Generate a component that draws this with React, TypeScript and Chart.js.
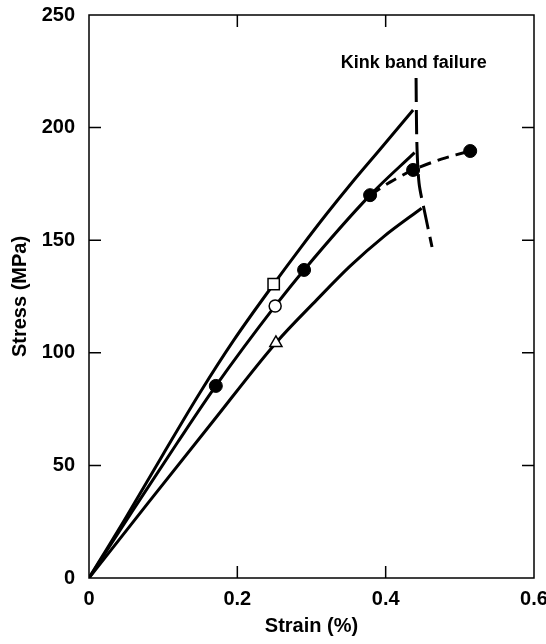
import React, { useEffect, useRef } from "react";
import { Chart, registerables } from "chart.js";

Chart.register(...registerables);

// ---- data ----
const xTickValues = [0, 0.2, 0.4, 0.6];
const yTickValues = [0, 50, 100, 150, 200, 250];

const upperStrain = [0, 0.05, 0.1, 0.15, 0.195, 0.249, 0.285, 0.32, 0.356, 0.392, 0.437];
const upperStress = [0, 27, 55, 82.5, 105.5, 130.5, 146.5, 161.5, 176.2, 190.2, 207.8];

const middleStrain = [0, 0.06, 0.12, 0.171, 0.251, 0.29, 0.379, 0.439];
const middleStress = [0, 30.5, 60.5, 85.3, 120.8, 136.8, 170, 188.9];

const lowerStrain = [0, 0.08, 0.167, 0.252, 0.307, 0.352, 0.397, 0.4485];
const lowerStress = [0, 33.5, 69.5, 104.4, 123.5, 138.5, 151.5, 164.2];

const dashedStrain = [0.379, 0.406, 0.437, 0.475, 0.514];
const dashedStress = [170, 175.8, 181.2, 186, 189.6];

const kinkStrain = [0.441, 0.442, 0.445, 0.452, 0.4625];
const kinkStress = [222, 194, 175.4, 163.4, 147];

const filledStrain = [0.171, 0.29, 0.379, 0.437, 0.514];
const filledStress = [85.3, 136.8, 170, 181.2, 189.6];

const squarePoint = [0.249, 130.5];
const openCirclePoint = [0.251, 120.8];
const trianglePoint = [0.252, 104.4];

const kinkLabel = "Kink band failure";
const kinkLabelPos = [0.438, 228.7];

const xTitle = "Strain (%)";
const yTitle = "Stress (MPa)";

const FONT = "'Liberation Sans', Arial, Helvetica, sans-serif";

const zip = (xs: number[], ys: number[]) => xs.map((x, i) => ({ x, y: ys[i] }));

const framePlugin = {
  id: "frameAndText",
  afterDraw(chart: any) {
    const { ctx, chartArea, scales } = chart;
    const xs = scales.x;
    const ys = scales.y;
    ctx.save();
    ctx.strokeStyle = "#000";
    ctx.lineWidth = 1.5;
    ctx.strokeRect(chartArea.left, chartArea.top, chartArea.right - chartArea.left, chartArea.bottom - chartArea.top);
    const tl = 12;
    ctx.beginPath();
    yTickValues.forEach((v) => {
      if (v === 0 || v === 250) return;
      const py = ys.getPixelForValue(v);
      ctx.moveTo(chartArea.left, py);
      ctx.lineTo(chartArea.left + tl, py);
      ctx.moveTo(chartArea.right, py);
      ctx.lineTo(chartArea.right - tl, py);
    });
    xTickValues.forEach((v) => {
      if (v === 0 || v === 0.6) return;
      const px = xs.getPixelForValue(v);
      ctx.moveTo(px, chartArea.bottom);
      ctx.lineTo(px, chartArea.bottom - tl);
      ctx.moveTo(px, chartArea.top);
      ctx.lineTo(px, chartArea.top + tl);
    });
    ctx.stroke();
    // annotation
    ctx.fillStyle = "#000";
    ctx.font = `bold 18px ${FONT}`;
    ctx.textAlign = "center";
    ctx.textBaseline = "middle";
    ctx.fillText(kinkLabel, xs.getPixelForValue(kinkLabelPos[0]), ys.getPixelForValue(kinkLabelPos[1]));
    ctx.restore();
  },
};

export default function App() {
  const canvasRef = useRef<HTMLCanvasElement | null>(null);

  useEffect(() => {
    if (!canvasRef.current) return;
    const lineBase = {
      showLine: true,
      borderColor: "#000",
      backgroundColor: "#000",
      borderWidth: 3,
      pointRadius: 0,
      fill: false,
      order: 2,
    };
    const chart = new Chart(canvasRef.current, {
      type: "scatter",
      data: {
        datasets: [
          { ...lineBase, label: "upper", data: zip(upperStrain, upperStress), cubicInterpolationMode: "monotone" },
          { ...lineBase, label: "middle", data: zip(middleStrain, middleStress), cubicInterpolationMode: "monotone" },
          { ...lineBase, label: "lower", data: zip(lowerStrain, lowerStress), cubicInterpolationMode: "monotone" },
          { ...lineBase, label: "dashed", data: zip(dashedStrain, dashedStress), borderDash: [12, 7], tension: 0.3 },
          { ...lineBase, label: "kink", data: zip(kinkStrain, kinkStress), borderDash: [24, 8], tension: 0.3 },
          {
            label: "filled",
            data: zip(filledStrain, filledStress),
            showLine: false,
            pointStyle: "circle",
            pointRadius: 6.5,
            pointBackgroundColor: "#000",
            pointBorderColor: "#000",
            pointBorderWidth: 1,
            order: 0,
          },
          {
            label: "square",
            data: [{ x: squarePoint[0], y: squarePoint[1] }],
            showLine: false,
            pointStyle: "rect",
            pointRadius: 8,
            pointBackgroundColor: "#fff",
            pointBorderColor: "#000",
            pointBorderWidth: 1.5,
            order: 0,
          },
          {
            label: "openCircle",
            data: [{ x: openCirclePoint[0], y: openCirclePoint[1] }],
            showLine: false,
            pointStyle: "circle",
            pointRadius: 6,
            pointBackgroundColor: "#fff",
            pointBorderColor: "#000",
            pointBorderWidth: 1.5,
            order: 0,
          },
          {
            label: "triangle",
            data: [{ x: trianglePoint[0], y: trianglePoint[1] }],
            showLine: false,
            pointStyle: "triangle",
            pointRadius: 7,
            pointBackgroundColor: "#fff",
            pointBorderColor: "#000",
            pointBorderWidth: 1.5,
            order: 0,
          },
        ],
      },
      options: {
        responsive: false,
        animation: false,
        devicePixelRatio: 1,
        layout: { padding: { top: 15, right: 12, left: 0, bottom: 0 } },
        plugins: { legend: { display: false }, tooltip: { enabled: false }, title: { display: false } },
        scales: {
          x: {
            type: "linear",
            min: 0,
            max: 0.6,
            afterBuildTicks: (scale: any) => {
              scale.ticks = xTickValues.map((v) => ({ value: v }));
            },
            afterFit: (scale: any) => {
              scale.height = 66;
              scale.paddingLeft = 0;
              scale.paddingRight = 0;
            },
            grid: { display: false, drawTicks: false },
            border: { display: false },
            ticks: {
              color: "#000",
              font: { family: FONT, size: 20, weight: "bold" },
              padding: 9,
              maxRotation: 0,
              callback: (v: any) => String(v),
            },
            title: {
              display: true,
              text: xTitle,
              color: "#000",
              font: { family: FONT, size: 20, weight: "bold" },
              padding: { top: 0, bottom: 6 },
            },
          },
          y: {
            type: "linear",
            min: 0,
            max: 250,
            afterBuildTicks: (scale: any) => {
              scale.ticks = yTickValues.map((v) => ({ value: v }));
            },
            afterFit: (scale: any) => {
              scale.width = 89;
              scale.paddingTop = 0;
              scale.paddingBottom = 0;
            },
            grid: { display: false, drawTicks: false },
            border: { display: false },
            ticks: {
              color: "#000",
              font: { family: FONT, size: 20, weight: "bold" },
              padding: 14,
              callback: (v: any) => String(v),
            },
            title: {
              display: true,
              text: yTitle,
              color: "#000",
              font: { family: FONT, size: 20, weight: "bold" },
              padding: { top: 8, bottom: 0 },
            },
          },
        },
      },
      plugins: [framePlugin],
    } as any);
    return () => chart.destroy();
  }, []);

  return (
    <div style={{ position: "absolute", left: 0, top: 0, width: 546, height: 644, background: "#fff" }}>
      <canvas ref={canvasRef} width={546} height={644} style={{ display: "block" }} />
    </div>
  );
}
